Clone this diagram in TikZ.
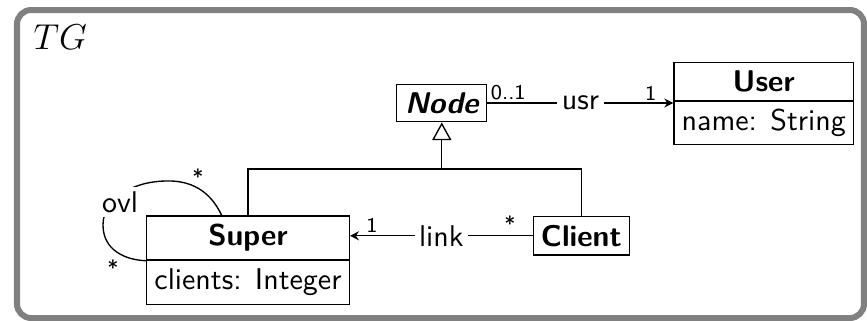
\documentclass[tikz,border=0pt]{standalone}
\usepackage{fontspec}
\usetikzlibrary{arrows.meta,calc}
\renewcommand{\familydefault}{\sfdefault}
\begin{document}
\begin{tikzpicture}[x=0.33333pt,y=-0.33333pt,
  frame/.style={draw=black!50, line width=2pt, rounded corners=4.7pt},
  box/.style={draw, line width=0.45pt, inner sep=0pt, font=\normalsize},
  cname/.style={box, font=\bfseries},
  mult/.style={font=\scriptsize, inner sep=0pt},
  role/.style={font=\normalsize, fill=white, inner sep=1.5pt},
  conn/.style={line width=0.45pt},
  >={Stealth[length=3pt,width=3pt,inset=1pt]}]

\useasboundingbox (0,0) rectangle (867,320);

% type graph frame and its title
\draw[frame] (17,10) rectangle (864,318);
\node[anchor=base west, inner sep=0pt, font=\fontsize{11.5}{13}\selectfont] (title) at (33,49) {$TG$};

% classes
\node[cname, font=\bfseries\itshape, minimum width=30pt, minimum height=12.5pt] (node) at (441.8,103) {Node};
\node[cname, minimum width=59.8pt, minimum height=12.8pt] (user) at (763.7,81.9) {User};
\node[box, minimum width=59.8pt, minimum height=14.4pt] (userattr) at (763.7,122.7) {name: String};
\node[cname, minimum width=67.5pt, minimum height=14.7pt] (super) at (248,238) {Super};
\node[box, minimum width=67.5pt, minimum height=14.8pt] (superattr) at (248,282.2) {clients: Integer};
\node[cname, minimum width=32pt, minimum height=12.8pt] (client) at (581.3,235.8) {Client};

% inheritance
\coordinate (jn) at (441.8,169);
\draw[conn] (super.north) |- (jn) -| (client.north);
\draw[conn,-{Triangle[open,length=5.9pt,width=6.4pt]}] (jn) -- (node.south);

% usr reference
\draw[conn,->] (node.east) -- (node.east -| user.west) node[role, midway] (usr) {usr};
\node[mult] (usrsrc) at (508.3,93) {0..1};
\node[mult] (usrtgt) at (650.7,93) {1};

% link reference
\draw[conn,->] (client.west) -- (client.west -| super.east) node[role, midway] (link) {link};
\node[mult] (linktgt) at (372,225) {1};
\node[mult] (linksrc) at (510,224) {*};

% ovl self reference
\coordinate (ovlstart) at (222,216);
\draw[conn] (ovlstart) .. controls (210,190) and (190,180) .. (165,181)
  .. controls (130,182) and (103,200) .. (103,225)
  .. controls (103,250) and (125,260) .. (super.south west);
\node[role] (ovl) at (120,202) {ovl};
\node[mult] (ovltgt) at (198,177) {*};
\node[mult] (ovlsrc) at (113,268) {*};
\end{tikzpicture}
\end{document}
